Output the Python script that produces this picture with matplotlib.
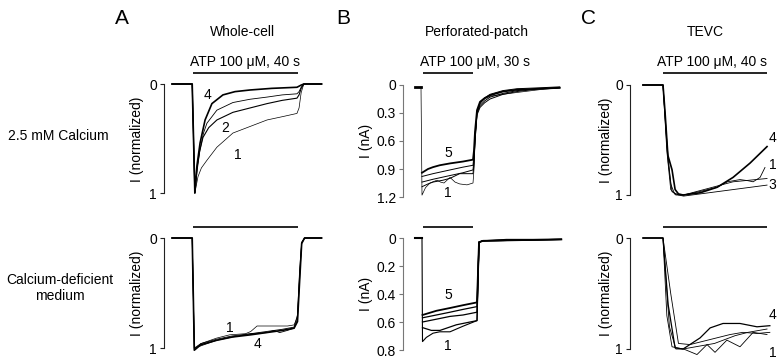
import matplotlib
matplotlib.use("Agg")
import matplotlib.pyplot as plt

plt.rcParams['font.family'] = ['Liberation Sans', 'DejaVu Sans']

# === DATA (time in s from ATP onset, current normalized or in nA) ===

# A, whole-cell, 2.5 mM calcium
a_top_t1 = [-8, -0.3, 0.7, 1.9, 3.2, 5.3, 9.1, 15.2, 21.7, 28.2, 34, 39.6, 40.4, 41.2, 42.2, 49]
a_top_i1 = [0, 0, 1.0, 0.85, 0.77, 0.70, 0.58, 0.45, 0.39, 0.33, 0.30, 0.27, 0.22, 0.08, 0.0, 0.0]
a_top_t2 = [-8, -0.3, 0.7, 1.5, 2.5, 3.8, 6, 9.1, 15.2, 21.7, 28.2, 34, 39.6, 40.4, 41.2, 42.2, 49]
a_top_i2 = [0, 0, 1.0, 0.8, 0.62, 0.49, 0.40, 0.33, 0.26, 0.22, 0.18, 0.15, 0.13, 0.10, 0.04, 0.0, 0.0]
a_top_t3 = [-8, -0.3, 0.7, 1.5, 2.7, 4, 5.3, 9.1, 15.2, 21.7, 28.2, 34, 39.6, 40.4, 41.2, 42.2, 49]
a_top_i3 = [0, 0, 1.0, 0.78, 0.6, 0.45, 0.36, 0.24, 0.17, 0.14, 0.12, 0.10, 0.09, 0.07, 0.03, 0.0, 0.0]
a_top_t4 = [-8, -0.3, 0.7, 1.5, 2.7, 4.6, 7.2, 11.4, 16, 21.7, 30, 39.6, 40.4, 41.2, 42.2, 49]
a_top_i4 = [0, 0, 1.0, 0.75, 0.54, 0.33, 0.18, 0.10, 0.07, 0.055, 0.04, 0.03, 0.02, 0.01, 0.0, 0.0]

# A, whole-cell, calcium-deficient
a_bot_t1 = [-8, -0.3, 0.5, 3, 9, 14, 20, 22, 24.4, 30, 36, 38.5, 39.8, 40.6, 41.4, 42.5, 49]
a_bot_i1 = [0, 0, 1.0, 0.96, 0.91, 0.88, 0.87, 0.85, 0.80, 0.80, 0.80, 0.79, 0.72, 0.35, 0.04, 0.0, 0.0]
a_bot_t2 = [-8, -0.3, 0.5, 3, 9, 15, 22, 28, 31, 33, 36, 38.5, 39.8, 40.6, 41.4, 42.5, 49]
a_bot_i2 = [0, 0, 1.01, 0.96, 0.92, 0.89, 0.87, 0.86, 0.84, 0.86, 0.84, 0.82, 0.74, 0.38, 0.05, 0.0, 0.0]
a_bot_t3 = [-8, -0.3, 0.5, 3, 9, 15, 22, 28, 34, 38.5, 39.8, 40.6, 41.4, 42.5, 49]
a_bot_i3 = [0, 0, 1.0, 0.98, 0.93, 0.90, 0.87, 0.85, 0.83, 0.81, 0.70, 0.30, 0.04, 0.0, 0.0]
a_bot_t4 = [-8, -0.3, 0.5, 3, 9, 15, 22, 28, 34, 38.5, 39.8, 40.6, 41.4, 42.5, 49]
a_bot_i4 = [0, 0, 1.02, 0.97, 0.93, 0.90, 0.88, 0.86, 0.84, 0.82, 0.76, 0.40, 0.05, 0.0, 0.0]

# B, perforated-patch, 2.5 mM calcium (nA)
b_top_t1 = [-1.2, -0.6, 1.5, 4.2, 8.4, 10.5, 12.6, 16.2, 19.2, 22, 26.4, 30, 30.6, 31.2, 32.4, 34.2, 37, 40.2, 48, 56.4, 70, 82]
b_top_i1 = [0.02, 1.18, 1.10, 1.05, 1.02, 1.04, 1.05, 0.99, 1.04, 1.06, 1.07, 1.05, 0.9, 0.6, 0.28, 0.19, 0.15, 0.12, 0.10, 0.08, 0.05, 0.03]
b_top_t2 = [-0.6, 6, 16.2, 24, 30, 30.6, 31.2, 32.4, 34.2, 37, 40.2, 48, 56.4, 70, 82]
b_top_i2 = [0.98, 0.95, 0.91, 0.88, 0.86, 0.75, 0.55, 0.30, 0.22, 0.17, 0.13, 0.09, 0.06, 0.04, 0.03]
b_top_t3 = [-0.6, 6, 16.2, 24, 30, 30.6, 31.2, 32.4, 34.2, 37, 40.2, 48, 56.4, 70, 82]
b_top_i3 = [1.04, 1.01, 0.97, 0.94, 0.91, 0.8, 0.6, 0.32, 0.24, 0.19, 0.15, 0.10, 0.07, 0.04, 0.03]
b_top_t4 = [-0.6, 3, 6, 12, 16.2, 22, 30, 30.6, 31.2, 32.4, 34.2, 37, 40.2, 48, 56.4, 70, 82]
b_top_i4 = [1.09, 1.06, 1.04, 1.02, 1.00, 0.95, 0.95, 0.85, 0.6, 0.30, 0.20, 0.14, 0.10, 0.06, 0.04, 0.03, 0.02]
b_top_t5 = [-0.6, 3, 6, 10, 16.2, 24, 30, 30.6, 31.2, 32.4, 34.2, 37, 40.2, 48, 56.4, 70, 82]
b_top_i5 = [0.94, 0.90, 0.88, 0.86, 0.84, 0.82, 0.80, 0.7, 0.5, 0.27, 0.18, 0.14, 0.11, 0.07, 0.05, 0.04, 0.03]
b_top_hold_t = [-4.8, -1.2]
b_top_hold_i = [0.02, 0.02]

# B, perforated-patch, calcium-deficient (nA)
b_bot_t1 = [-0.6, -0.3, 2, 6, 10, 16.2, 24, 32.4, 33.0, 33.6, 36, 50, 70, 83]
b_bot_i1 = [0.0, 0.74, 0.71, 0.68, 0.67, 0.67, 0.63, 0.59, 0.3, 0.03, 0.02, 0.01, 0.01, 0.01]
b_bot_t2 = [-0.3, 8, 16.2, 24, 32.4, 33.0, 33.6, 36, 83]
b_bot_i2 = [0.57, 0.55, 0.53, 0.51, 0.49, 0.25, 0.03, 0.02, 0.01]
b_bot_t3 = [-0.3, 8, 16.2, 24, 32.4, 33.0, 33.6, 36, 83]
b_bot_i3 = [0.60, 0.58, 0.56, 0.55, 0.53, 0.27, 0.03, 0.02, 0.01]
b_bot_t4 = [-0.3, 5, 10.2, 20, 32.4, 33.0, 33.6, 36, 83]
b_bot_i4 = [0.64, 0.66, 0.66, 0.62, 0.59, 0.3, 0.03, 0.02, 0.01]
b_bot_t5 = [-0.3, 8, 16.2, 24, 32.4, 33.0, 33.6, 36, 83]
b_bot_i5 = [0.55, 0.52, 0.50, 0.48, 0.46, 0.24, 0.03, 0.02, 0.01]
b_bot_hold_t = [-4.8, -0.6]
b_bot_hold_i = [0.0, 0.0]

# C, TEVC, 2.5 mM calcium
c_top_t1 = [-7.8, 0, 1.6, 3, 4.5, 8, 14, 21, 25, 29.9, 33, 35, 37.7, 39.6]
c_top_i1 = [0, 0, 0.55, 0.9, 0.99, 1.0, 0.97, 0.93, 0.88, 0.86, 0.87, 0.88, 0.84, 0.75]
c_top_t2 = [-7.8, 0, 1.5, 3, 5, 8, 27.2, 40.4]
c_top_i2 = [0, 0, 0.6, 0.95, 1.0, 1.0, 0.88, 0.85]
c_top_t3 = [-7.8, 0, 2, 3.5, 6, 8, 40.4]
c_top_i3 = [0, 0, 0.7, 0.97, 1.0, 1.01, 0.91]
c_top_t4 = [-7.8, 0, 0.8, 1.9, 3.5, 4.7, 6, 7.8, 14.4, 21, 27.2, 33.8, 40.4]
c_top_i4 = [0, 0, 0.25, 0.64, 0.77, 0.95, 0.99, 1.0, 0.98, 0.93, 0.84, 0.71, 0.56]

# C, TEVC, calcium-deficient
c_bot_t1 = [-7.8, 0, 2.5, 5, 8, 13.2, 17.1, 20.2, 24.8, 29.9, 35, 40.4]
c_bot_i1 = [0, 0, 0.8, 1.0, 1.0, 1.05, 0.96, 1.03, 0.92, 0.98, 0.85, 0.87]
c_bot_t2 = [-7.8, 0, 1.5, 3.5, 7.8, 20, 28, 33, 40.4]
c_bot_i2 = [0, 0, 0.7, 0.98, 1.0, 0.95, 0.88, 0.85, 0.82]
c_bot_t3 = [-7.8, 0, 3, 6, 10.5, 26, 31, 36.5, 41.5]
c_bot_i3 = [0, 0, 0.5, 0.95, 0.96, 0.87, 0.85, 0.86, 0.85]
c_bot_t4 = [-7.8, 0, 2, 4.7, 7.8, 14.4, 18.3, 23.3, 29.9, 36.5, 41.5]
c_bot_i4 = [0, 0, 0.6, 0.99, 1.0, 0.9, 0.81, 0.77, 0.77, 0.80, 0.79]

b_top_ticks = [0, 0.3, 0.6, 0.9, 1.2]
b_bot_ticks = [0, 0.2, 0.4, 0.6, 0.8]

# === LAYOUT (pixels) ===
W, H = 781, 363
FS = 10
fig = plt.figure(figsize=(W / 100, H / 100), dpi=100)


def make_ax(spine_x, right_x, y0, y1, t0_px, px_per_s, ymax, ticks, spine_color):
    ax = fig.add_axes([spine_x / W, 1 - y1 / H, (right_x - spine_x) / W, (y1 - y0) / H])
    ax.set_xlim((spine_x - t0_px) / px_per_s, (right_x - t0_px) / px_per_s)
    ax.set_ylim(ymax, 0)
    for s in ['top', 'right', 'bottom']:
        ax.spines[s].set_visible(False)
    ax.spines['left'].set_color(spine_color)
    ax.spines['left'].set_linewidth(0.8)
    ax.set_xticks([])
    ax.set_yticks(ticks)
    ax.set_yticklabels([('%g' % v) for v in ticks])
    ax.tick_params(axis='y', length=3, width=0.8, color=spine_color, labelsize=FS, pad=2)
    ax.patch.set_alpha(0)
    return ax


def trace(ax, t, i, lw=0.6):
    ax.plot(t, i, color='black', lw=lw, clip_on=False, solid_joinstyle='round')


def label(ax, t, v, s):
    ax.text(t, v, s, fontsize=FS, ha='center', va='center', clip_on=False)


def bar(ax, t1, v):
    ax.plot([0, t1], [v, v], color='black', lw=1.2, clip_on=False, solid_capstyle='butt')


def ftext(x, y, s, **kw):
    fig.text(x / W, 1 - y / H, s, ha='center', va='center', **kw)


# Panel A
ax = make_ax(164, 322, 84, 193, 193, 2.625, 1, [0, 1], '#222222')
trace(ax, a_top_t1, a_top_i1, 0.5)
trace(ax, a_top_t2, a_top_i2, 0.8)
trace(ax, a_top_t3, a_top_i3, 0.6)
trace(ax, a_top_t4, a_top_i4, 1.2)
label(ax, 5.7, 0.10, '4')
label(ax, 12.2, 0.40, '2')
label(ax, 17.1, 0.65, '1')
bar(ax, 40, -0.10)

ax = make_ax(164, 322, 238, 348, 193, 2.625, 1, [0, 1], '#222222')
trace(ax, a_bot_t1, a_bot_i1, 0.5)
trace(ax, a_bot_t2, a_bot_i2, 0.6)
trace(ax, a_bot_t3, a_bot_i3, 0.6)
trace(ax, a_bot_t4, a_bot_i4, 1.2)
label(ax, 14.1, 0.82, '1')
label(ax, 24.4, 0.96, '4')
bar(ax, 40, -0.10)

# Panel B
ax = make_ax(403, 562, 85, 197, 423, 1.667, 1.2, b_top_ticks, '#777777')
trace(ax, b_top_hold_t, b_top_hold_i, 2.0)
trace(ax, b_top_t1, b_top_i1, 0.5)
trace(ax, b_top_t2, b_top_i2, 0.7)
trace(ax, b_top_t3, b_top_i3, 0.7)
trace(ax, b_top_t4, b_top_i4, 0.7)
trace(ax, b_top_t5, b_top_i5, 1.3)
label(ax, 15, 0.73, '5')
label(ax, 15, 1.16, '1')
bar(ax, 30, -0.129)

ax = make_ax(403, 562, 238, 350, 423, 1.667, 0.8, b_bot_ticks, '#777777')
trace(ax, b_bot_hold_t, b_bot_hold_i, 1.5)
trace(ax, b_bot_t1, b_bot_i1, 0.8)
trace(ax, b_bot_t2, b_bot_i2, 0.9)
trace(ax, b_bot_t3, b_bot_i3, 0.9)
trace(ax, b_bot_t4, b_bot_i4, 0.9)
trace(ax, b_bot_t5, b_bot_i5, 1.3)
label(ax, 15, 0.41, '5')
label(ax, 15, 0.77, '1')
bar(ax, 30, -0.079)

# Panel C
ax = make_ax(630, 772, 85, 195, 663, 2.575, 1, [0, 1], '#222222')
trace(ax, c_top_t1, c_top_i1, 0.6)
trace(ax, c_top_t2, c_top_i2, 0.6)
trace(ax, c_top_t3, c_top_i3, 0.6)
trace(ax, c_top_t4, c_top_i4, 1.2)
label(ax, 42.6, 0.48, '4')
label(ax, 42.6, 0.73, '1')
label(ax, 42.6, 0.91, '3')
bar(ax, 40.4, -0.11)

ax = make_ax(630, 772, 238, 349, 663, 2.575, 1, [0, 1], '#222222')
trace(ax, c_bot_t1, c_bot_i1, 0.6)
trace(ax, c_bot_t2, c_bot_i2, 0.6)
trace(ax, c_bot_t3, c_bot_i3, 0.6)
trace(ax, c_bot_t4, c_bot_i4, 0.9)
label(ax, 42.6, 0.69, '4')
label(ax, 42.6, 1.04, '1')
bar(ax, 40.4, -0.10)

# Text
ftext(122, 18, 'A', fontsize=15)
ftext(343, 18, 'B', fontsize=15)
ftext(588, 18, 'C', fontsize=15)
ftext(243, 32, 'Whole-cell', fontsize=FS)
ftext(477, 32, 'Perforated-patch', fontsize=FS)
ftext(705, 32, 'TEVC', fontsize=FS)
ftext(245, 62, 'ATP 100 \u03bcM, 40 s', fontsize=FS)
ftext(475, 62, 'ATP 100 \u03bcM, 30 s', fontsize=FS)
ftext(712, 62, 'ATP 100 \u03bcM, 40 s', fontsize=FS)
ftext(58, 136, '2.5 mM Calcium', fontsize=FS)
ftext(60, 288, 'Calcium-deficient\nmedium', fontsize=FS, linespacing=1.2)
ftext(137, 139, 'I (normalized)', fontsize=FS, rotation=90)
ftext(137, 293, 'I (normalized)', fontsize=FS, rotation=90)
ftext(366, 141, 'I (nA)', fontsize=FS, rotation=90)
ftext(366, 294, 'I (nA)', fontsize=FS, rotation=90)
ftext(606, 140, 'I (normalized)', fontsize=FS, rotation=90)
ftext(606, 293, 'I (normalized)', fontsize=FS, rotation=90)

fig.savefig('out.png', dpi=100)
